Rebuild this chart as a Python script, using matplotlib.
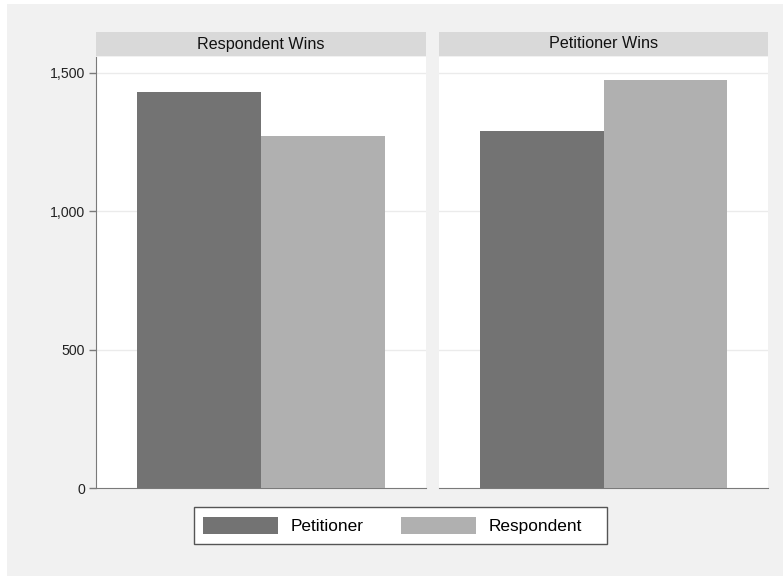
"""
Barres groupees en deux panneaux (style Stata) : votes selon le gagnant.
"""
import matplotlib
matplotlib.use("Agg")
import matplotlib.pyplot as plt
from matplotlib.patches import Rectangle, Patch
from matplotlib.ticker import FuncFormatter

# Donnees
panels = ["Respondent Wins", "Petitioner Wins"]
series = ["Petitioner", "Respondent"]
petitioner = [1430, 1289]
respondent = [1271, 1474]
yticks = [0, 500, 1000, 1500]

C_PET = "#737373"
C_RES = "#b0b0b0"
BG = "#f1f1f1"
HEAD = "#d9d9d9"

plt.rcParams["font.family"] = ["Liberation Sans", "DejaVu Sans"]

W, H = 783, 576
fig = plt.figure(figsize=(W / 100, H / 100), dpi=100, facecolor="white")
fig.patches.append(Rectangle((7 / W, 0), 1, 1 - 4 / H, transform=fig.transFigure,
                             facecolor=BG, edgecolor="none", zorder=-10))


def px(x0, y0, x1, y1):
    """Rectangle en pixels (origine en haut a gauche) -> coords figure."""
    return [x0 / W, 1 - y1 / H, (x1 - x0) / W, (y1 - y0) / H]


lefts = [(96, 426), (439, 768)]
ymax = 1500 * (488 - 57) / (488 - 72.7)

for i, name in enumerate(panels):
    x0, x1 = lefts[i]
    ax = fig.add_axes(px(x0, 57, x1, 488))
    ax.set_facecolor("white")
    ax.bar(0, petitioner[i], width=1, color=C_PET, zorder=3)
    ax.bar(1, respondent[i], width=1, color=C_RES, zorder=3)
    ax.set_xlim(-0.835, 1.835)
    ax.set_ylim(0, ymax)
    ax.set_xticks([])
    ax.set_yticks(yticks)
    ax.yaxis.set_major_formatter(FuncFormatter(lambda v, p: f"{int(v):,}"))
    for y in yticks[1:]:
        ax.axhline(y, color="#ebebeb", lw=1, zorder=1)
    for s in ["top", "right"]:
        ax.spines[s].set_visible(False)
    ax.spines["bottom"].set_color("#7a7a7a")
    ax.spines["left"].set_color("#7a7a7a")
    if i == 0:
        ax.tick_params(axis="y", length=5, width=1, color="#7a7a7a",
                       labelsize=10.2, pad=3, labelcolor="#222222")
    else:
        ax.spines["left"].set_visible(False)
        ax.tick_params(axis="y", left=False, labelleft=False)

    hd = fig.add_axes(px(x0, 32, x1, 56))
    hd.set_facecolor(HEAD)
    hd.set_xticks([]); hd.set_yticks([])
    for s in hd.spines.values():
        s.set_visible(False)
    hd.text(0.5, 0.5, name, ha="center", va="center", fontsize=11.6,
            color="#111111", transform=hd.transAxes)

# Cadre de la legende (marge droite plus large, comme dans Stata)
fig.patches.append(Rectangle((194 / W, 1 - 544 / H), 413 / W, 37 / H,
                             transform=fig.transFigure, facecolor="white",
                             edgecolor="#555555", lw=1, zorder=1))
handles = [Patch(facecolor=C_PET, edgecolor="none"),
           Patch(facecolor=C_RES, edgecolor="none")]
fig.legend(handles, series, loc="center left", ncol=2,
           bbox_to_anchor=(203 / W, 1 - 525.5 / H),
           fontsize=12.4, frameon=False,
           handlelength=4.36, handleheight=1.22, handletextpad=0.7,
           columnspacing=2.2, borderpad=0, borderaxespad=0)

fig.savefig("out.png", dpi=100, facecolor=fig.get_facecolor())
